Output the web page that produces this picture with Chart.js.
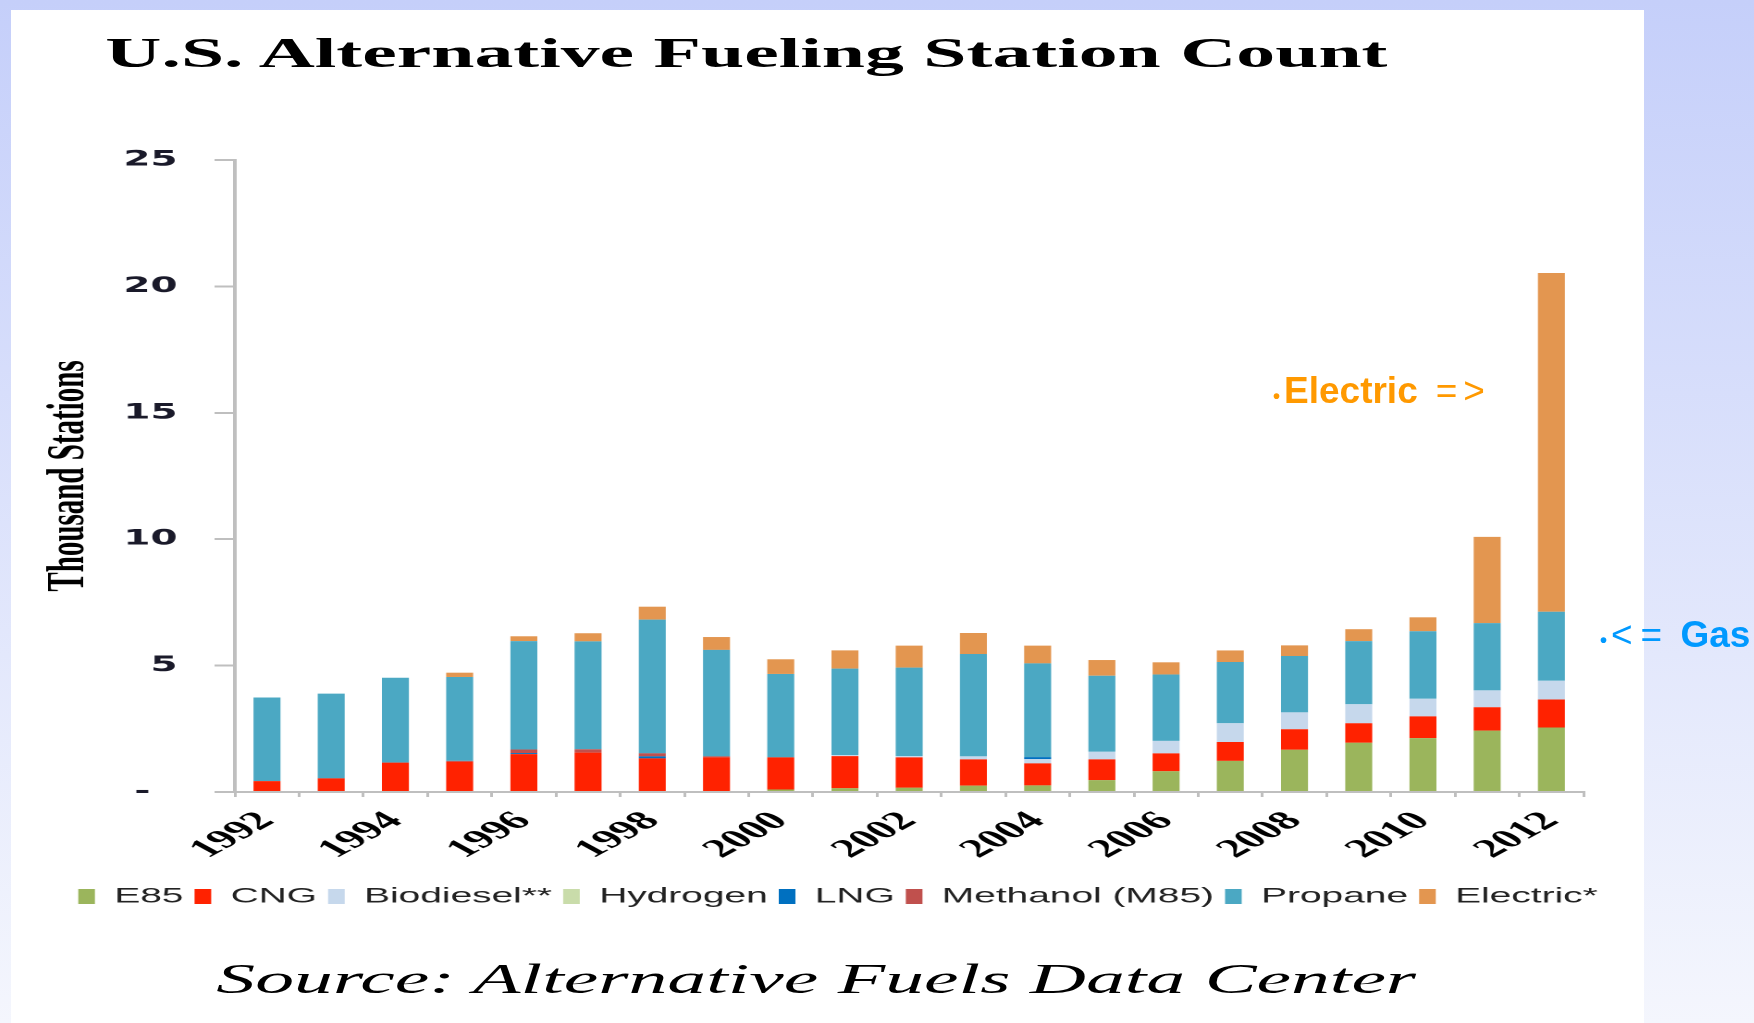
<!DOCTYPE html>
<html>
<head>
<meta charset="utf-8">
<script src="https://cdn.jsdelivr.net/npm/chart.js"></script>
<style>
html, body { margin:0; padding:0; }
body { width:1754px; height:1023px; overflow:hidden; position:relative;
  background: linear-gradient(to bottom, #c5cffa 0%, #f4f6fd 100%); }
#panel { position:absolute; left:11px; top:10px; width:1633px; height:1013px; background:#fff; }
/* the slide picture is stretched sideways, so the whole chart is drawn narrow and scaled */
#stretch { position:absolute; left:11px; top:10px; width:894px; height:1013px; transform:scaleX(1.85); transform-origin:0 0; }
#title { position:absolute; left:51px; top:22px; font:bold 42px "Liberation Serif"; line-height:42px; white-space:nowrap; color:#000; }
#source { position:absolute; left:111px; top:948px; font:italic 42px "Liberation Serif"; line-height:42px; white-space:nowrap; color:#000; }
#chartBox { position:absolute; left:0; top:90px; width:894px; height:817px; }
.note { position:absolute; font:bold 37px "Liberation Sans"; line-height:37px; white-space:nowrap; }
.note .b { font-size:20px; margin-right:4px; }
.note .t { font-weight:normal; }
</style>
</head>
<body>
<div id="panel"></div>
<div id="stretch">
  <div id="title">U.S. Alternative Fueling Station Count</div>
  <div id="chartBox"><canvas id="chart" width="894" height="817"></canvas></div>
  <div id="source">Source: Alternative Fuels Data Center</div>
</div>
<div class="note" style="left:1273px; top:372px; color:#ff9900;"><span class="b">•</span>Electric<span class="t" style="margin-left:18px; letter-spacing:6px;">=&gt;</span></div>
<div class="note" style="left:1600px; top:616px; color:#0099ff;"><span class="b">•</span><span class="t" style="letter-spacing:8px;">&lt;=</span> Gas</div>

<script>
var years = ['1992','1993','1994','1995','1996','1997','1998','1999','2000','2001','2002',
             '2003','2004','2005','2006','2007','2008','2009','2010','2011','2012']
var shownYears = ['1992','1994','1996','1998','2000','2002','2004','2006','2008','2010','2012']

var yTickValues = [0, 5, 10, 15, 20, 25]
var yTickLabels = ['-  ', '5', '10', '15', '20', '25']

// thousand stations
var e85       = [0, 0, 0, 0, 0, 0, 0, 0, 0.10, 0.15, 0.17, 0.25, 0.26, 0.47, 0.82, 1.23, 1.67, 1.95, 2.13, 2.43, 2.55]
var cng       = [0.43, 0.54, 1.16, 1.19, 1.50, 1.56, 1.33, 1.37, 1.27, 1.27, 1.20, 1.04, 0.87, 0.82, 0.71, 0.75, 0.81, 0.77, 0.86, 0.92, 1.11]
var biodiesel = [0, 0, 0, 0, 0, 0, 0, 0, 0, 0.04, 0.05, 0.12, 0.17, 0.30, 0.49, 0.74, 0.67, 0.75, 0.70, 0.67, 0.74]
var hydrogen  = [0, 0, 0, 0, 0, 0, 0, 0, 0, 0, 0, 0, 0, 0, 0, 0, 0, 0, 0, 0, 0]
var lng       = [0, 0, 0, 0, 0.04, 0, 0.08, 0, 0, 0, 0, 0, 0.08, 0, 0, 0, 0, 0, 0, 0, 0]
var methanol  = [0, 0, 0, 0.04, 0.14, 0.13, 0.12, 0.04, 0, 0, 0, 0, 0, 0, 0, 0, 0, 0, 0, 0, 0]
var propane   = [3.31, 3.35, 3.36, 3.32, 4.29, 4.27, 5.29, 4.21, 3.30, 3.42, 3.50, 4.05, 3.71, 3.01, 2.63, 2.42, 2.23, 2.50, 2.67, 2.66, 2.73]
var electric  = [0, 0, 0, 0.17, 0.19, 0.32, 0.51, 0.51, 0.58, 0.72, 0.87, 0.83, 0.70, 0.62, 0.48, 0.46, 0.42, 0.47, 0.55, 3.41, 13.40]

var fuels = ['E85', 'CNG', 'Biodiesel**', 'Hydrogen', 'LNG', 'Methanol (M85)', 'Propane', 'Electric*']
var fuelColors = ['#9bb55c', '#ff2200', '#c6d8ec', '#c9dcaa', '#0070c0', '#c0504d', '#4ba8c3', '#e39650']
var series = [e85, cng, biodiesel, hydrogen, lng, methanol, propane, electric]

var datasets = []
for (var i = 0; i < fuels.length; i++) {
    datasets.push({
        label: fuels[i],
        data: series[i],
        backgroundColor: fuelColors[i],
        borderWidth: 0,
        barPercentage: 0.42,
        categoryPercentage: 1
    })
}

var axisGrey = '#bfbfbf'

new Chart(document.getElementById('chart'), {
    type: 'bar',
    data: { labels: years, datasets: datasets },
    options: {
        responsive: false,
        animation: false,
        devicePixelRatio: 2,
        layout: { padding: { top: 60, left: 0, right: 0, bottom: 0 } },
        plugins: {
            legend: {
                position: 'bottom',
                labels: {
                    font: { family: 'Liberation Sans', size: 21 },
                    color: '#222',
                    boxWidth: 9,
                    boxHeight: 15,
                    padding: 6
                }
            },
            tooltip: { enabled: false }
        },
        scales: {
            x: {
                stacked: true,
                grid: { drawOnChartArea: false, drawTicks: true, tickLength: 5, color: axisGrey, lineWidth: 1.5, offset: true },
                border: { display: true, color: axisGrey, width: 2 },
                ticks: {
                    autoSkip: false,
                    maxRotation: 45,
                    minRotation: 45,
                    padding: 9,
                    color: '#000',
                    font: { family: 'Liberation Serif', size: 26, weight: 'bold' },
                    callback: function (v) {
                        var y = years[v]
                        return shownYears.indexOf(y) >= 0 ? y : ''
                    }
                },
                afterFit: function (s) { s.height = 88 }
            },
            y: {
                stacked: true,
                min: 0,
                max: 25,
                grid: { drawOnChartArea: false, drawTicks: true, tickLength: 11, color: axisGrey, lineWidth: 2 },
                border: { display: true, color: axisGrey, width: 2 },
                ticks: {
                    stepSize: 5,
                    padding: 20,
                    color: '#1a1a2a',
                    font: { family: 'DejaVu Sans', size: 21, weight: 'bold' },
                    callback: function (v) {
                        var k = yTickValues.indexOf(v)
                        return k >= 0 ? yTickLabels[k] : ''
                    }
                },
                title: {
                    display: true,
                    text: 'Thousand Stations',
                    color: '#000',
                    font: { family: 'Liberation Serif', size: 29, weight: 'bold' },
                    padding: { top: 14, bottom: 0 }
                },
                afterFit: function (s) { s.width = 121 }
            },
            // empty right axis only keeps room so the legend centres like the original
            y2: {
                type: 'linear',
                position: 'right',
                grid: { display: false },
                border: { display: false },
                ticks: { display: false },
                afterFit: function (s) { s.width = 44 }
            }
        }
    }
})
</script>
</body>
</html>
